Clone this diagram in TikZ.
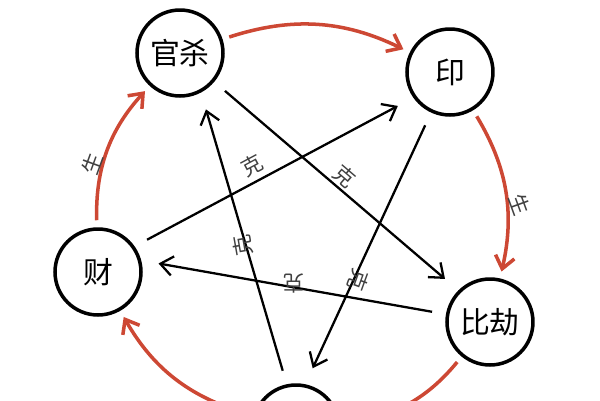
\documentclass[tikz,border=0pt]{standalone}
\usepackage{fontspec}
\newfontfamily\cjk{Noto Sans CJK SC}
\usetikzlibrary{arrows.meta}
\definecolor{shengred}{RGB}{205,72,52}
\begin{document}
\begin{tikzpicture}[x=0.02cm, y=-0.02cm,
  elem/.style={circle, draw, line width=2pt, minimum size=1.72cm, font=\cjk\fontsize{17}{19}\selectfont},
  ke/.style={-{Straight Barb[length=7pt,width=11pt]}, line width=1.3pt, shorten >=10pt, shorten <=8pt},
  sheng/.style={-{Straight Barb[length=7pt,width=11pt]}, shengred, line width=2pt, shorten >=4pt, shorten <=4pt},
  lbl/.style={font=\cjk\fontsize{12}{14}\selectfont, text=black!75, inner sep=1pt}]
  \useasboundingbox (0,0) rectangle (600,400);
  \clip (0,0) rectangle (600,400);

  % the five elements
  \node[elem] (gs) at (180,53) {官杀};
  \node[elem] (yin) at (450,72) {印};
  \node[elem] (bj) at (490,322) {比劫};
  \node[elem] (ss) at (296,428) {};
  \node[elem] (cai) at (98,272) {财};

  % red ring: generating
  \draw[sheng] (gs) to[bend left=22] (yin);
  \draw[sheng] (yin) to[bend left=22] node[lbl, right=6pt, rotate=-70] {生} (bj);
  \draw[sheng] (bj) to[bend left=22] (ss);
  \draw[sheng] (ss) to[bend left=22] (cai);
  \draw[sheng] (cai) to[bend left=22] node[lbl, left=6pt, rotate=70] {生} (gs);

  % black star: controlling
  \draw[ke] (gs.-40) -- node[lbl, pos=0.5, above, sloped] {克} (bj.135);
  \draw[ke] (yin.-115) -- node[lbl, pos=0.57, right=2pt, rotate=-110] {克} (ss.78);
  \draw[ke] (bj.170) -- node[lbl, pos=0.5, below=5pt, rotate=180] {克} (cai.15);
  \draw[ke] (ss.102) -- node[lbl, pos=0.52, left=1pt, rotate=100] {克} (gs.-62);
  \draw[ke] (cai.35) -- node[lbl, pos=0.45, above=2pt, sloped] {克} (yin.-145);
\end{tikzpicture}
\end{document}
